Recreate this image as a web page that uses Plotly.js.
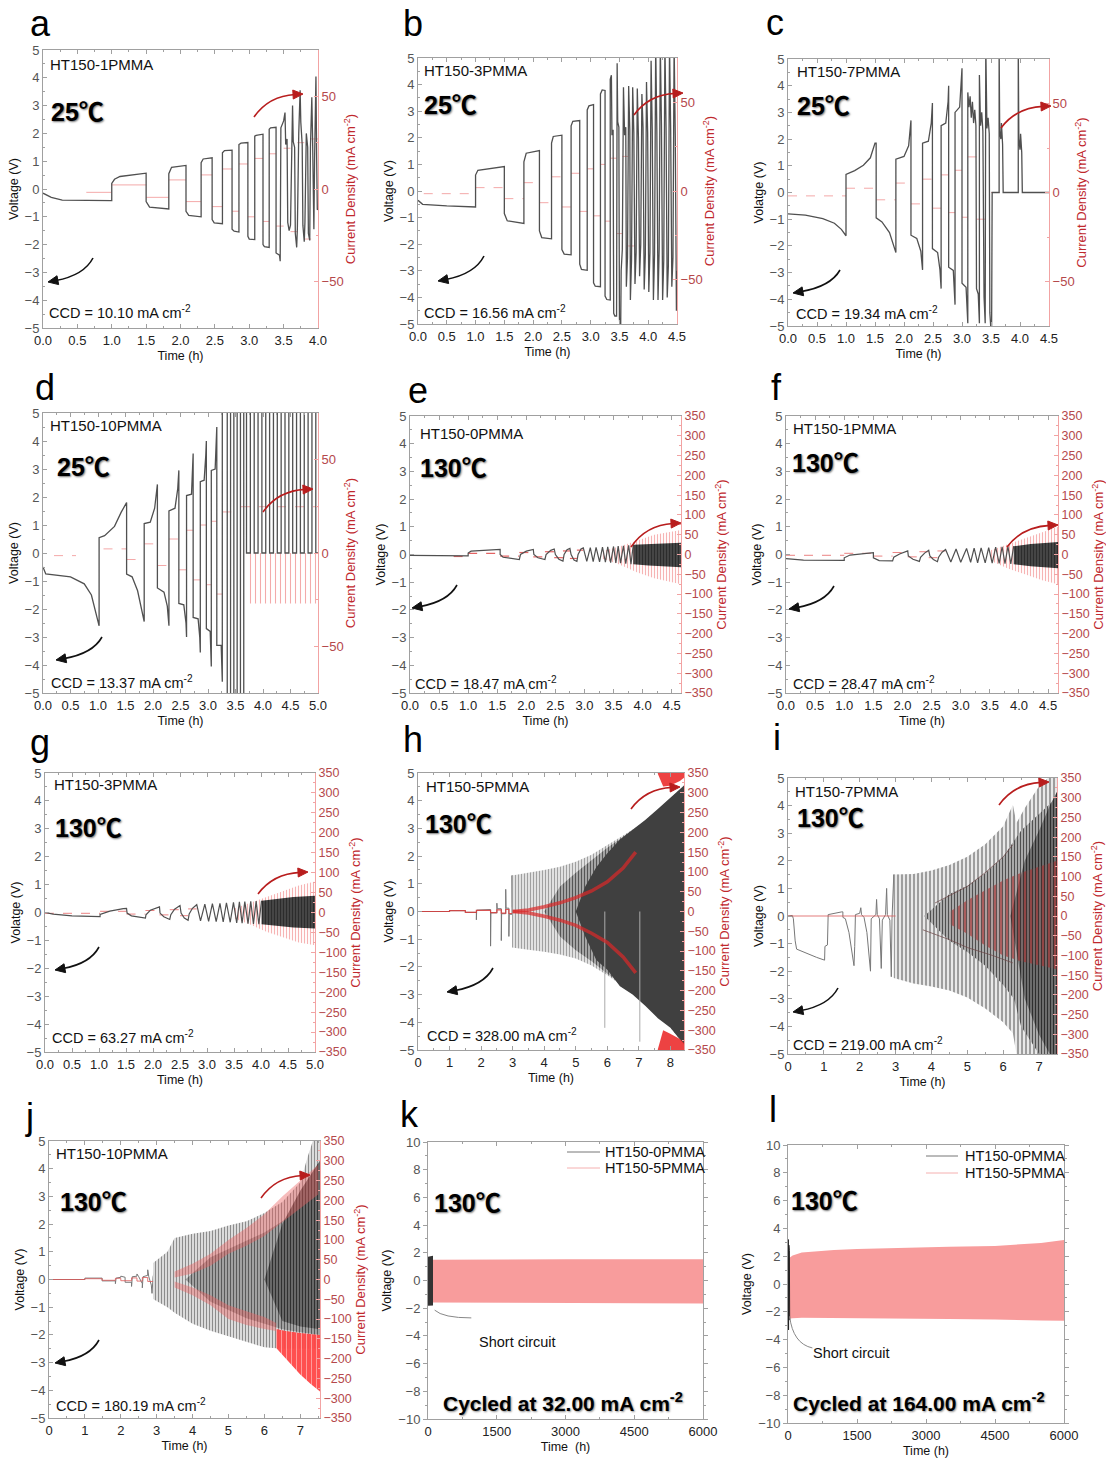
<!DOCTYPE html>
<html><head><meta charset="utf-8">
<script src="https://cdn.plot.ly/plotly-3.0.1.min.js"></script>
<style>html,body{margin:0;padding:0;background:#fff}#chart{width:1106px;height:1463px}</style>
</head><body><div id="chart"></div>
<script>
// ======================= DATA =======================
const sampleNames = ['HT150-1PMMA','HT150-3PMMA','HT150-7PMMA','HT150-10PMMA','HT150-0PMMA','HT150-1PMMA','HT150-3PMMA','HT150-5PMMA','HT150-7PMMA','HT150-10PMMA'];
const ccdValues = ['10.10','16.56','19.34','13.37','18.47','28.47','63.27','328.00','219.00','180.19'];
const temps = ['25℃','25℃','25℃','25℃','130℃','130℃','130℃','130℃','130℃','130℃','130℃','130℃'];
const panelLetters = ['a','b','c','d','e','f','g','h','i','j','k','l'];
const cycledAt = ['32.00','164.00'];
const legendNames = ['HT150-0PMMA','HT150-5PMMA'];

// panel a : [time h, voltage V]
const a_volt = [[0,-0.15],[0.12,-0.3],[0.28,-0.4],[1.0,-0.42],[1.0,0.2],[1.04,0.35],[1.12,0.45],[1.5,0.57],[1.5,-0.45],[1.55,-0.65],[1.83,-0.72],[1.83,0.55],[1.87,0.78],[2.08,0.85],[2.08,-0.8],[2.12,-0.95],[2.3,-1.0],[2.3,0.95],[2.33,1.08],[2.46,1.12],[2.46,-1.1],[2.49,-1.22],[2.61,-1.25],[2.61,1.3],[2.64,1.38],[2.75,1.4],[2.75,-1.45],[2.78,-1.52],[2.85,-1.55],[2.85,1.6],[2.88,1.65],[2.98,1.67],[2.98,-1.7],[3.0,-1.8],[3.08,-1.82],[3.08,1.9],[3.1,1.93],[3.2,1.97],[3.2,-2.0],[3.22,-2.07],[3.29,-2.1],[3.29,2.15],[3.31,2.2],[3.39,2.22],[3.39,-2.3],[3.44,-2.38],[3.45,-2.6],[3.46,2.2],[3.5,2.45],[3.52,2.75],[3.53,1.6],[3.55,1.8],[3.56,-1.2],[3.58,-1.5],[3.6,-1.3],[3.62,1.8],[3.63,3.0],[3.64,1.7],[3.66,1.5],[3.67,-1.6],[3.69,-2.1],[3.7,-1.4],[3.72,2.0],[3.74,3.55],[3.75,2.4],[3.77,1.6],[3.78,-1.3],[3.8,-1.9],[3.81,-1.2],[3.83,2.0],[3.85,1.5],[3.86,-1.6],[3.88,-1.85],[3.89,1.5],[3.91,3.3],[3.92,2.0],[3.93,-1.0],[3.94,-1.45],[3.95,1.0],[3.97,4.05],[3.98,1.2],[3.99,-0.75],[4.0,-0.7]];
const a_jt = [0.63,1.0,1.5,1.83,2.08,2.3,2.46,2.61,2.75,2.85,2.98,3.08,3.2,3.29,3.39,3.5,3.6,3.7,3.8,3.9,4.0];
const a_j  = [-1.8,2.2,-4.5,4.9,-6.8,7.6,-9.5,10.8,-12,13.5,-15,16.5,-17.5,19,-20,22,-23,25,-27,27];

// panel b
const b_volt = [[0,-0.35],[0.08,-0.5],[0.5,-0.56],[1.0,-0.6],[1.0,0.6],[1.04,0.78],[1.5,0.92],[1.5,-0.85],[1.55,-1.12],[1.84,-1.22],[1.84,1.1],[1.88,1.42],[2.11,1.52],[2.11,-1.5],[2.15,-1.75],[2.32,-1.8],[2.32,1.8],[2.35,2.05],[2.5,2.1],[2.5,-2.2],[2.54,-2.37],[2.66,-2.4],[2.66,2.45],[2.69,2.62],[2.81,2.65],[2.81,-2.75],[2.84,-2.95],[2.94,-2.98],[2.94,3.05],[2.97,3.2],[3.05,3.25],[3.05,-3.45],[3.08,-3.58],[3.17,-3.6],[3.17,3.65],[3.2,3.8],[3.25,3.78],[3.25,-3.95],[3.28,-4.08],[3.34,-4.1],[3.34,4.2],[3.36,4.35],[3.37,2.1],[3.39,2.3],[3.4,-4.6],[3.42,-4.7],[3.45,-4.7],[3.46,4.8],[3.47,2.6],[3.49,2.4],[3.5,-4.8],[3.52,-5.5],[3.53,-3.0],[3.55,-2.2],[3.57,3.9],[3.59,2.1],[3.61,2.4],[3.62,-3.6],[3.64,-2.5],[3.66,3.95],[3.68,2.3],[3.69,-4.1],[3.71,-2.6],[3.73,3.9],[3.75,2.2],[3.77,-3.5],[3.79,-2.3],[3.81,3.85],[3.83,2.0],[3.85,-3.2],[3.87,-2.0],[3.89,3.65],[3.91,2.4],[3.93,-3.7],[3.95,-2.4],[3.97,4.1],[3.99,2.2],[4.01,-3.8],[4.03,-2.3],[4.05,4.9],[4.07,2.3],[4.09,-4.1],[4.11,-2.4],[4.13,5.5],[4.15,2.2],[4.17,-4.1],[4.19,-2.2],[4.21,5.5],[4.23,2.5],[4.25,-4.1],[4.27,-2.6],[4.29,5.5],[4.31,2.4],[4.33,-4.0],[4.35,-2.8],[4.37,5.5],[4.39,2.3],[4.41,-3.6],[4.43,-2.5],[4.45,5.5],[4.47,2.1],[4.49,-4.5],[4.5,-3.0]];
const b_jt = [0.1,1.0,1.5,1.84,2.11,2.32,2.5,2.66,2.81,2.94,3.05,3.17,3.25,3.34,3.45,3.55,3.65,3.75];
const b_j  = [-1.5,1.9,-4.3,4.7,-6.6,8,-9,10,-11.5,12.5,-14,15,-17,18.5,-24,19.5,-31];

// panel c
const c_volt = [[0,-0.8],[0.3,-0.85],[0.6,-0.98],[0.8,-1.15],[0.92,-1.38],[1.0,-1.62],[1.0,0.68],[1.15,0.82],[1.3,1.02],[1.42,1.3],[1.5,1.85],[1.52,1.85],[1.52,-0.95],[1.62,-1.1],[1.75,-1.5],[1.86,-2.25],[1.86,1.25],[2.0,1.35],[2.08,1.75],[2.12,2.7],[2.12,-1.6],[2.22,-1.72],[2.29,-2.2],[2.32,-2.9],[2.32,1.85],[2.42,1.92],[2.47,2.6],[2.49,3.35],[2.49,-2.1],[2.58,-2.25],[2.62,-2.9],[2.64,-3.6],[2.64,2.5],[2.72,2.6],[2.76,3.4],[2.77,4.0],[2.77,-2.8],[2.85,-2.92],[2.88,-4.2],[2.88,3.0],[2.96,3.2],[3.0,4.65],[3.0,-3.4],[3.07,-3.55],[3.1,-4.9],[3.1,3.75],[3.12,3.2],[3.14,3.6],[3.16,2.8],[3.18,3.4],[3.2,2.6],[3.22,3.1],[3.24,2.5],[3.25,-3.6],[3.28,-3.8],[3.3,-4.9],[3.3,4.4],[3.32,2.5],[3.34,3.0],[3.36,2.3],[3.38,-3.9],[3.4,-4.9],[3.41,5.5],[3.43,2.4],[3.45,2.8],[3.47,2.2],[3.48,-4.5],[3.51,-5.5],[3.52,0],[3.64,0],[3.64,5.5],[3.65,2.3],[3.67,2.0],[3.68,2.6],[3.7,1.8],[3.71,0],[3.97,0],[3.97,5.5],[3.98,2.0],[4.0,1.6],[4.01,2.2],[4.03,1.5],[4.04,0],[4.5,0]];
const c_jt = [0,1.0,1.52,1.86,2.12,2.32,2.49,2.64,2.77,2.88,3.0,3.1,3.25,3.5,4.5];
const c_j  = [-1.9,2.4,-4.1,5.3,-6.4,7.5,-8.8,9.9,-11.3,12.5,-13.9,20,-15,0];

// panel d
const d_volt = [[0,-0.5],[0.05,-0.75],[0.5,-0.85],[0.75,-1.1],[0.88,-1.5],[0.96,-2.1],[1.02,-2.6],[1.02,0.55],[1.12,0.62],[1.3,0.95],[1.42,1.45],[1.52,1.8],[1.52,-0.75],[1.62,-0.85],[1.72,-1.35],[1.84,-2.45],[1.84,1.05],[1.95,1.1],[2.03,1.6],[2.08,2.45],[2.08,-1.25],[2.2,-1.4],[2.26,-1.9],[2.29,-2.6],[2.29,1.5],[2.4,1.6],[2.45,2.3],[2.47,2.95],[2.47,-1.8],[2.56,-1.85],[2.6,-2.5],[2.61,-3.0],[2.61,2.05],[2.7,2.1],[2.72,2.9],[2.73,3.55],[2.73,-2.3],[2.82,-2.35],[2.85,-3.0],[2.86,-3.55],[2.86,2.55],[2.93,2.6],[2.96,3.5],[2.97,4.0],[2.97,-2.7],[3.04,-2.8],[3.06,-4.05],[3.06,2.95],[3.13,3.0],[3.16,4.5],[3.16,-3.3],[3.24,-3.3],[3.26,-4.6]];
const d_sw1 = [3.26,3.35,3.41,3.47,3.53,3.59,3.65,3.70];
const d_sw2 = [3.70,3.77,3.84,3.91,3.98,4.05,4.12,4.19,4.26,4.33,4.40,4.47,4.54,4.61,4.68,4.75,4.82,4.89,4.96,5.0];
const d_jt = [0.2,0.6,1.1,1.52,1.84,2.08,2.29,2.47,2.61,2.73,2.86,2.97,3.06,3.16,3.26,3.6,5.0];
const d_j  = [-1.4,null,2.2,-3.5,4.9,-6.7,7.5,-9,12.2,-14.4,15,-17,17,-22,22,24.8];
const d_neg_t = [3.7,5.0], d_neg_hi = [0,0], d_neg_lo = [-27,-27];

// panel e
const e_volt = [[0,-0.03],[1.0,-0.05],[1.0,0.05],[1.05,0.12],[1.55,0.18],[1.55,0.0],[1.6,-0.1],[1.88,-0.18],[1.9,0.0],[2.0,0.12],[2.12,0.18],[2.13,0.0],[2.2,-0.12],[2.32,-0.18],[2.34,0.0],[2.42,0.15],[2.48,0.2],[2.5,0.0],[2.56,-0.17],[2.63,-0.24],[2.65,0.0],[2.7,0.17],[2.75,0.22],[2.77,0.0],[2.82,-0.2],[2.87,-0.25],[2.89,0.0],[2.94,0.2],[2.98,0.24],[3.04,-0.25],[3.1,0.25],[3.15,-0.26],[3.2,0.26],[3.26,-0.27],[3.31,0.27],[3.36,-0.28],[3.4,0.28],[3.45,-0.29],[3.5,0.29],[3.54,-0.3],[3.58,0.3],[3.62,-0.31],[3.67,0.31],[3.71,-0.33],[3.76,0.33],[3.8,-0.35],[3.84,0.35]];
const e_band_t = [3.84,4.1,4.4,4.66], e_band_hi = [0.35,0.38,0.41,0.42], e_band_lo = [-0.35,-0.4,-0.44,-0.46];
const e_jt = [0.75,1.0,1.55,1.88,2.12,2.32,2.48,2.63,2.75,2.87,2.98];
const e_j  = [-5,3,-4,5,-6,7,-8,9,-10,11];
const e_jb_t = [3.3,3.6,3.9,4.2,4.66], e_jb_hi = [8,20,35,50,62], e_jb_lo = [-10,-25,-45,-60,-75];

// panel f
const f_volt = [[0,-0.15],[0.3,-0.2],[1.0,-0.21],[1.0,-0.12],[1.1,-0.02],[1.5,0.07],[1.5,-0.12],[1.6,-0.22],[1.83,-0.23],[1.85,-0.1],[1.95,0.02],[2.09,0.13],[2.1,-0.05],[2.18,-0.17],[2.29,-0.25],[2.31,-0.1],[2.38,0.05],[2.45,0.15],[2.47,-0.05],[2.53,-0.18],[2.6,-0.26],[2.62,-0.1],[2.68,0.08],[2.74,0.18],[2.83,-0.27],[2.92,0.2],[3.0,-0.28],[3.1,0.22],[3.17,-0.28],[3.23,0.23],[3.29,-0.3],[3.35,0.24],[3.42,-0.3],[3.48,0.25],[3.54,-0.31],[3.6,0.27],[3.66,-0.32],[3.71,0.28],[3.76,-0.33],[3.81,0.29],[3.86,-0.34],[3.91,0.3]];
const f_band_t = [3.91,4.2,4.5,4.67], f_band_hi = [0.3,0.38,0.42,0.45], f_band_lo = [-0.35,-0.42,-0.48,-0.5];
const f_jt = [0,1.0,1.5,1.83,2.09,2.29,2.45,2.6,2.74];
const f_j  = [-2,3,-4,5,-6,7,-8,9];
const f_jb_t = [3.5,3.8,4.1,4.4,4.67], f_jb_hi = [10,25,40,55,70], f_jb_lo = [-15,-35,-50,-65,-75];

// panel g
const g_volt = [[0,0.0],[0.15,-0.06],[0.5,-0.12],[1.02,-0.15],[1.02,-0.07],[1.2,0.05],[1.45,0.14],[1.51,0.15],[1.52,-0.02],[1.6,-0.12],[1.86,-0.2],[1.87,-0.08],[1.95,0.08],[2.12,0.2],[2.13,-0.02],[2.2,-0.15],[2.31,-0.25],[2.33,-0.08],[2.4,0.12],[2.5,0.25],[2.52,-0.02],[2.58,-0.2],[2.65,-0.28],[2.67,-0.05],[2.73,0.15],[2.81,0.28],[2.88,-0.3],[2.96,0.3],[3.03,-0.32],[3.1,0.32],[3.17,-0.33],[3.24,0.33],[3.3,-0.34],[3.36,0.35],[3.43,-0.35],[3.49,0.36],[3.55,-0.37],[3.6,0.38],[3.65,-0.38],[3.7,0.39],[3.76,-0.4],[3.81,0.4],[3.86,-0.41],[3.91,0.41],[3.96,-0.42],[4.01,0.42]];
const g_band_t = [4.01,4.3,4.6,5.0], g_band_hi = [0.42,0.5,0.56,0.6], g_band_lo = [-0.42,-0.48,-0.54,-0.57];
const g_jt = [0,1.02,1.51,1.86,2.12,2.31,2.5,2.65,2.81];
const g_j  = [-2,3,-4,5,-6,7,-8,9];
const g_jb_t = [3.5,3.8,4.1,4.4,4.7,5.0], g_jb_hi = [10,25,40,55,68,78], g_jb_lo = [-15,-30,-48,-62,-75,-82];

// panel h
const h_volt = [[0,0],[1.0,0],[1.0,0.03],[1.5,0.03],[1.5,-0.03],[1.85,-0.03],[1.85,-0.3],[1.86,0.05],[2.3,0.07],[2.3,-1.25],[2.31,-0.05],[2.5,-0.05],[2.5,0.3],[2.51,0.1],[2.64,0.1],[2.64,-1.05],[2.65,-0.08],[2.78,-0.08],[2.78,0.8],[2.79,0.12],[2.88,0.12],[2.88,-0.9],[2.89,-0.1],[2.98,-0.1],[2.98,1.3],[2.99,0.15],[3.05,0.15]];
const h_env_t  = [2.98,3.5,4.0,4.5,5.0,5.5,6.0,6.5,7.0,7.5,8.0,8.43];
const h_env_hi = [1.3,1.4,1.5,1.62,1.8,2.05,2.4,2.75,3.1,3.55,4.1,4.55];
const h_env_lo = [-1.3,-1.38,-1.45,-1.55,-1.7,-1.95,-2.3,-2.7,-3.1,-3.7,-4.2,-4.8];
const h_mid_t  = [4.0,4.5,5.0,5.5,6.0,6.5,7.0];
const h_mid_hi = [0,0.9,1.4,1.85,2.3,2.7,3.1];
const h_mid_lo = [0,-0.9,-1.4,-1.8,-2.25,-2.65,-3.1];
const h_core_t  = [5.0,5.3,5.65,6.0,6.4,6.8,7.2,7.6,8.0,8.43];
const h_core_hi = [0,0.9,1.6,2.1,2.6,2.95,3.3,3.7,4.1,4.55];
const h_core_lo = [0,-0.9,-1.75,-2.1,-2.7,-3.0,-3.4,-3.85,-4.2,-4.8];
const h_sp_t = [5.92,7.03], h_sp_hi = [0,0], h_sp_lo = [-4.2,-4.7];
const h_jt = [0,1.0,1.5,1.85,2.3,2.5,2.64,2.78,2.88,2.98];
const h_j  = [0,2,-2,3,-3,4,-4,5,-5];
const h_ju_t = [3.0,3.5,4.0,4.5,5.0,5.5,6.0,6.5,6.9], h_ju = [0,4,12,22,35,52,75,110,150], h_jl = [0,-4,-12,-22,-35,-55,-78,-115,-155];
const h_jc_t = [7.6,7.77,7.98,8.3,8.43], h_jc_top = [348,316,318,330,338], h_jc_bot = [-348,-300,-308,-322,-332];

// panel i
const i_volt = [[0,0],[0.12,0.02],[0.15,-0.1],[0.2,-0.9],[0.24,-1.2],[0.5,-1.35],[0.8,-1.5],[1.02,-1.6],[1.03,-1.1],[1.1,-1.05],[1.12,0.05],[1.5,0.15],[1.53,0.15],[1.53,-0.05],[1.6,-0.1],[1.7,-0.6],[1.78,-1.4],[1.84,-1.8],[1.86,-1.1],[1.88,0.05],[2.0,0.1],[2.03,0.3],[2.05,0.05],[2.12,-0.05],[2.2,-0.6],[2.3,-2.0],[2.32,-0.1],[2.45,0.05],[2.47,0.6],[2.49,0.05],[2.55,-0.1],[2.6,-1.9],[2.63,-0.15],[2.72,0.05],[2.75,1.0],[2.77,0.05],[2.84,-0.15],[2.88,-2.2],[2.9,-0.1],[2.95,1.5],[2.97,0.0]];
const i_env_t  = [2.95,3.5,4.0,4.5,5.0,5.5,6.0,6.27,6.37,6.6,7.0,7.25,7.5];
const i_env_hi = [1.5,1.52,1.65,1.85,2.15,2.6,3.25,4.03,3.37,3.9,4.7,5.0,5.0];
const i_env_lo = [-2.25,-2.45,-2.55,-2.7,-2.95,-3.35,-3.85,-4.25,-5,-5,-5,-5,-5];
const i_mid_t  = [3.8,4.5,5.0,5.5,6.0,6.3,6.5,7.0,7.5];
const i_mid_hi = [0,0.8,1.1,1.55,2.15,2.75,3.1,3.7,4.3];
const i_mid_lo = [0,-0.9,-1.3,-1.8,-2.5,-3.0,-4.0,-5,-5];
const i_core_t  = [6.2,6.6,7.0,7.3,7.5];
const i_core_hi = [0,2.0,3.1,4.0,4.5];
const i_core_lo = [0,-3.0,-4.3,-5,-5];
const i_jb_t = [4.5,5.0,5.5,6.0,6.5,7.0,7.5], i_jb_hi = [10,40,65,90,110,125,140], i_jb_lo = [-20,-45,-75,-100,-115,-125,-135];
const i_cu_t = [4.1,5.0,5.5,6.0,6.27], i_cu = [33,75,110,150,181];
const i_cl_t = [3.76,4.5,5.0,5.7,6.27], i_cl = [-35,-60,-80,-100,-119];

// panel j
const j_volt = [[0,0],[1.0,0],[1.0,0.05],[1.48,0.05],[1.48,-0.05],[1.85,-0.05],[1.85,-0.15],[1.87,0.05],[2.0,0.08],[2.0,0.12],[2.12,0.08],[2.12,-0.1],[2.3,-0.1],[2.3,-0.25],[2.32,0.1],[2.45,0.12],[2.45,0.2],[2.5,0.1],[2.6,-0.15],[2.6,-0.3],[2.62,0.1],[2.75,0.15],[2.75,0.35],[2.78,0.1],[2.85,-0.2],[2.87,-0.5],[2.9,0.1],[3.0,0.6],[3.02,0.1]];
const j_env_t  = [2.9,3.3,3.5,4.0,4.5,5.0,5.5,6.0,6.5,7.0,7.2,7.35,7.55];
const j_env_hi = [0.6,1.0,1.5,1.65,1.75,1.95,2.1,2.4,2.8,3.5,4.4,5.0,5.0];
const j_env_lo = [-0.7,-1.0,-1.2,-1.6,-1.85,-2.05,-2.25,-2.45,-2.5,-2.5,-2.5,-2.5,-2.5];
const j_mid_t  = [3.8,4.5,5.0,5.5,6.0,6.5,7.0,7.55];
const j_mid_hi = [0,0.8,1.1,1.4,1.7,2.1,2.6,3.2];
const j_mid_lo = [0,-0.8,-1.1,-1.4,-1.6,-1.8,-1.9,-2.0];
const j_core_t  = [6.0,6.5,7.0,7.55], j_core_hi = [0,2.0,3.2,4.3], j_core_lo = [0,-1.5,-1.7,-1.8];
const j_bu_t = [3.5,4.0,4.5,5.0,5.5,6.0,6.5,7.0,7.5], j_bu_hi = [20,40,65,100,130,165,210,250,290], j_bu_lo = [5,15,35,65,85,110,145,180,215];
const j_bl_t = [3.5,4.0,4.5,5.0,5.5,6.0,6.33], j_bl_hi = [-5,-20,-40,-65,-80,-95,-110], j_bl_lo = [-20,-40,-65,-100,-115,-125,-130];
const j_rf_t = [6.33,6.6,7.0,7.3,7.55], j_rf_top = [-125,-130,-135,-138,-140], j_rf_bot = [-173,-200,-240,-265,-283];
const j_jt = [0,1.0,1.48,1.85,2.0,2.3,2.45,2.6,2.75,2.9];
const j_j  = [0,2,-2,3,-3,4,-4,5,-5];

// panel k (time h, voltage V)
const k_pink_t = [109,500,1500,3000,4500,6000], k_pink_hi = [1.49,1.5,1.51,1.53,1.54,1.54], k_pink_lo = [-1.59,-1.6,-1.61,-1.63,-1.64,-1.66];
const k_dark_t = [0,109], k_dark_hi = [1.72,1.78], k_dark_lo = [-1.83,-1.8];
// panel l
const l_pink_t  = [20,100,300,600,1000,1500,2500,3500,4500,5000,5500,6000];
const l_pink_hi = [1.86,2.05,2.26,2.35,2.45,2.52,2.62,2.68,2.74,2.82,2.95,3.17];
const l_pink_lo = [-2.5,-2.47,-2.42,-2.41,-2.43,-2.45,-2.5,-2.52,-2.55,-2.58,-2.62,-2.65];
const l_dark = [[0,-0.3],[6,3.2],[12,-3.3],[18,2.8],[24,-3.0],[30,2.4],[36,-2.6]];

// ======================= LAYOUT / STYLE =======================
const W = 1106, H = 1463;
const FONT = 'Arial, "Liberation Sans", "Noto Sans CJK SC", sans-serif';
const VCOL = '#505050', PINK = 'rgba(240,140,140,0.75)', AXG = '#a0a0a0', AXP = '#f2a3a3';
const fx = x => x / W, fy = y => 1 - y / H;

const P = [
 {box:[43,50,318,328],  xr:[0,4],    xd:0.5, xm:0.25, fmt:'.1f', cr:[-75,75], cd:50, cm:25, curTop:false, vt:'Voltage (V)', nm:[48,64], tp:[49,112], cc:[47,312], lt:[28,23], ab:[93,258,48,282], ar:[254,117,303,94]},
 {box:[418,58,677,324], xr:[0,4.5],  xd:0.5, xm:0.25, fmt:'.1f', cr:[-75,75], cd:50, cm:25, curTop:false, vt:'Voltage (V)', nm:[422,71], tp:[422,105], cc:[422,312], lt:[401,23], ab:[484,256,438,281], ar:[634,115,683,93]},
 {box:[788,59,1049,326],xr:[0,4.5],  xd:0.5, xm:0.25, fmt:'.1f', cr:[-75,75], cd:50, cm:25, curTop:false, vt:'Volatge (V)', nm:[795,72], tp:[795,106], cc:[794,313], lt:[764,22], ab:[840,270,793,293], ar:[1001,128,1051,106]},
 {box:[43,413,318,693], xr:[0,5],    xd:0.5, xm:0.25, fmt:'.1f', cr:[-75,75], cd:50, cm:25, curTop:false, vt:'Voltage (V)', nm:[48,425], tp:[55,467], cc:[49,682], lt:[33,387], ab:[102,637,56,660], ar:[263,512,313,489]},
 {box:[410,416,681,693],xr:[0,4.66], xd:0.5, xm:0.25, fmt:'.1f', cr:[-350,350], cd:50, cm:25, curTop:false, vt:'Voltage (V)', nm:[418,433], tp:[418,468], cc:[413,683], lt:[406,391], ab:[457,585,412,608], ar:[631,547,681,523]},
 {box:[786,416,1058,693],xr:[0,4.67],xd:0.5, xm:0.25, fmt:'.1f', cr:[-350,350], cd:50, cm:25, curTop:false, vt:'Voltage (V)', nm:[791,429], tp:[790,463], cc:[791,683], lt:[769,388], ab:[834,586,789,609], ar:[1007,547,1058,525]},
 {box:[45,773,315,1052],xr:[0,5],    xd:0.5, xm:0.25, fmt:'.1f', cr:[-350,350], cd:50, cm:25, curTop:false, vt:'Volatge (V)', nm:[52,785], tp:[53,828], cc:[50,1037], lt:[28,742], ab:[99,947,55,970], ar:[258,894,308,872]},
 {box:[418,773,684,1050],xr:[0,8.43],xd:1,   xm:0.5,  fmt:'d',   cr:[-350,350], cd:50, cm:25, curTop:true,  vt:'Voltage (V)', nm:[424,786], tp:[423,824], cc:[425,1035], lt:[401,739], ab:[493,968,447,992], ar:[631,809,680,787]},
 {box:[788,778,1057,1054],xr:[0,7.5],xd:1,   xm:0.5,  fmt:'d',   cr:[-350,350], cd:50, cm:25, curTop:true,  vt:'Voltage (V)', nm:[793,791], tp:[795,818], cc:[791,1044], lt:[771,738], ab:[838,988,793,1012], ar:[999,805,1049,782]},
 {box:[49,1141,320,1418],xr:[0,7.55],xd:1,   xm:0.5,  fmt:'d',   cr:[-350,350], cd:50, cm:25, curTop:true,  vt:'Voltage (V)', nm:[54,1153], tp:[58,1202], cc:[54,1405], lt:[23,1116], ab:[99,1340,55,1363], ar:[261,1198,310,1175]},
 {box:[428,1142,703,1419],xr:[0,6000],xd:1500,xm:750, fmt:'d',   cr:null, vt:'Voltage (V)', xt:'Time\u00a0\u00a0(h)', tp:[432,1203], lt:[398,1114], yr:[-10,10], yd:2, ym:1},
 {box:[788,1145,1064,1423],xr:[0,6000],xd:1500,xm:750, fmt:'d',   cr:null, vt:'Voltage (V)', tp:[789,1201], lt:[767,1109], yr:[-10,10], yd:2, ym:1}
];

const idx = (l, n) => n === 1 ? l : l + n;
const X = i => idx('x', i + 1), V = i => idx('y', 2 * i + 1), C = i => 'y' + (2 * i + 2);

const traces = [];
function addLine(pts, xa, ya, color, width, dash, shape) {
  traces.push({type:'scatter', mode:'lines', x:pts.map(q => q == null ? null : q[0]), y:pts.map(q => q == null ? null : q[1]),
    xaxis:xa, yaxis:ya, line:{color:color, width:width, dash:dash || 'solid', shape:shape || 'linear'}, hoverinfo:'skip', showlegend:false, connectgaps:false});
}
function addBand(t, hi, lo, xa, ya, color, pat) {
  const tr = {type:'scatter', mode:'lines', x:t.concat(t.slice().reverse()), y:hi.concat(lo.slice().reverse()),
    fill:'toself', fillcolor:color, line:{width:0, color:'rgba(0,0,0,0)'}, xaxis:xa, yaxis:ya, hoverinfo:'skip', showlegend:false};
  if (pat) tr.fillpattern = Object.assign({shape:'|', fillmode:'replace', size:4, solidity:0.45}, pat);
  traces.push(tr);
}
function steps(tt, jj) { const o = []; for (let i = 0; i < jj.length; i++) { if (jj[i] == null) continue; o.push([tt[i], jj[i]], [tt[i+1], jj[i]], null); } return o; }
function stepsJoined(tt, jj) { const o = []; for (let i = 0; i < jj.length; i++) { o.push([tt[i], jj[i]], [tt[i+1], jj[i]]); } return o; }
function square(tt, first, second) { const o = []; for (let i = 0; i < tt.length - 1; i++) { const v = i % 2 === 0 ? first : second; o.push([tt[i], v], [tt[i+1], v]); } return o; }
function spikes(tt, hi, lo) { const o = []; for (let i = 0; i < tt.length; i++) o.push([tt[i], lo[i]], [tt[i], hi[i]], null); return o; }
const pinkPat = {fgcolor:'rgba(238,120,120,0.6)', bgcolor:'rgba(255,235,235,0.25)', size:3, solidity:0.3};
const bandPat = {fgcolor:'#2c2c2c', bgcolor:'#555555', size:3, solidity:0.6};

// ---- traces per panel
addLine(steps(a_jt, a_j), X(0), C(0), PINK, 1);
addLine(a_volt, X(0), V(0), VCOL, 1.3);
addLine(steps(b_jt, b_j), X(1), C(1), PINK, 1, 'dash');
addLine(b_volt, X(1), V(1), VCOL, 1.3);
addLine(steps(c_jt, c_j), X(2), C(2), PINK, 1, 'dash');
addLine(c_volt, X(2), V(2), VCOL, 1.3);
addBand(d_neg_t, d_neg_hi, d_neg_lo, X(3), C(3), 'rgba(0,0,0,0)', {fgcolor:'rgba(240,150,150,0.8)', bgcolor:'rgba(255,255,255,0)', size:5, solidity:0.22});
addLine(steps(d_jt, d_j), X(3), C(3), PINK, 1, 'dash');
addLine(d_volt.concat(square(d_sw1, 5.5, -5.5), square(d_sw2, 0, 5.5)), X(3), V(3), VCOL, 1.3);
// e
addBand(e_jb_t, e_jb_hi, e_jb_lo, X(4), C(4), 'rgba(0,0,0,0)', pinkPat);
addLine(steps(e_jt, e_j), X(4), C(4), 'rgba(220,60,60,0.8)', 1.2, 'dash');
addLine(e_volt, X(4), V(4), VCOL, 1.2);
addBand(e_band_t, e_band_hi, e_band_lo, X(4), V(4), '#444', bandPat);
// f
addBand(f_jb_t, f_jb_hi, f_jb_lo, X(5), C(5), 'rgba(0,0,0,0)', pinkPat);
addLine(steps(f_jt, f_j), X(5), C(5), 'rgba(230,100,100,0.8)', 1, 'dash');
addLine(f_volt, X(5), V(5), VCOL, 1.2);
addBand(f_band_t, f_band_hi, f_band_lo, X(5), V(5), '#444', bandPat);
// g
addBand(g_jb_t, g_jb_hi, g_jb_lo, X(6), C(6), 'rgba(0,0,0,0)', pinkPat);
addLine(steps(g_jt, g_j), X(6), C(6), 'rgba(230,100,100,0.8)', 1, 'dash');
addLine(g_volt, X(6), V(6), VCOL, 1.2);
addBand(g_band_t, g_band_hi, g_band_lo, X(6), V(6), '#444', bandPat);
// h
addLine(h_volt, X(7), V(7), '#777', 1);
addBand(h_env_t, h_env_hi, h_env_lo, X(7), V(7), '#d6d6d6', {fgcolor:'#a0a0a0', bgcolor:'#e8e8e8', size:3, solidity:0.4});
addBand(h_mid_t, h_mid_hi, h_mid_lo, X(7), V(7), '#9a9a9a', {fgcolor:'#555', bgcolor:'#b5b5b5', size:3, solidity:0.45});
addBand(h_core_t, h_core_hi, h_core_lo, X(7), V(7), '#404040');
addLine(spikes(h_sp_t, h_sp_hi, h_sp_lo), X(7), V(7), '#aaa', 1);
addLine(stepsJoined(h_jt, h_j), X(7), C(7), 'rgba(215,60,60,0.85)', 1.2);
addLine(h_ju_t.map((t, k) => [t, h_ju[k]]), X(7), C(7), 'rgba(220,40,40,0.7)', 3.5);
addLine(h_ju_t.map((t, k) => [t, h_jl[k]]), X(7), C(7), 'rgba(220,40,40,0.7)', 3.5);
addBand(h_jc_t, [350,350,350,350,350], h_jc_top, X(7), C(7), 'rgba(235,45,45,0.9)');
addBand(h_jc_t, h_jc_bot, [-350,-350,-350,-350,-350], X(7), C(7), 'rgba(235,45,45,0.9)');
// i
addLine(i_volt, X(8), V(8), '#777', 1);
addBand(i_env_t, i_env_hi, i_env_lo, X(8), V(8), '#dadada', {fgcolor:'#8a8a8a', bgcolor:'#e8e8e8', size:4, solidity:0.4});
addBand(i_mid_t, i_mid_hi, i_mid_lo, X(8), V(8), '#a6a6a6', {fgcolor:'#505050', bgcolor:'#bdbdbd', size:3, solidity:0.45});
addBand(i_core_t, i_core_hi, i_core_lo, X(8), V(8), '#505050', {fgcolor:'#2e2e2e', bgcolor:'#8a8a8a', size:3, solidity:0.55});
addLine([[0,0],[3.0,0]], X(8), C(8), 'rgba(220,90,90,0.8)', 1);
addBand(i_jb_t, i_jb_hi, i_jb_lo, X(8), C(8), 'rgba(0,0,0,0)', {fgcolor:'rgba(170,40,40,0.55)', bgcolor:'rgba(190,80,80,0.12)', size:6, solidity:0.35});
addLine(i_cu_t.map((t, k) => [t, i_cu[k]]), X(8), C(8), 'rgba(110,70,70,0.7)', 1);
addLine(i_cl_t.map((t, k) => [t, i_cl[k]]), X(8), C(8), 'rgba(110,70,70,0.7)', 1);
// j
addLine(j_volt, X(9), V(9), '#777', 1);
addBand(j_env_t, j_env_hi, j_env_lo, X(9), V(9), '#d6d6d6', {fgcolor:'#8c8c8c', bgcolor:'#e4e4e4', size:3, solidity:0.4});
addBand(j_mid_t, j_mid_hi, j_mid_lo, X(9), V(9), '#9c9c9c', {fgcolor:'#5a5a5a', bgcolor:'#b0b0b0', size:3, solidity:0.45});
addBand(j_core_t, j_core_hi, j_core_lo, X(9), V(9), '#6a6a6a', {fgcolor:'#303030', bgcolor:'#7a7a7a', size:3, solidity:0.5});
addLine(stepsJoined(j_jt, j_j), X(9), C(9), 'rgba(220,90,90,0.8)', 1);
addBand(j_bu_t, j_bu_hi, j_bu_lo, X(9), C(9), 'rgba(235,95,95,0.42)');
addBand(j_bl_t, j_bl_hi, j_bl_lo, X(9), C(9), 'rgba(235,95,95,0.42)');
addBand(j_rf_t, j_rf_top, j_rf_bot, X(9), C(9), 'rgba(255,75,75,0.95)', {fgcolor:'rgba(255,190,190,0.9)', bgcolor:'rgba(255,70,70,0.95)', size:5, solidity:0.15});
// k
addBand(k_pink_t, k_pink_hi, k_pink_lo, X(10), V(10), '#f89c9c');
addBand(k_dark_t, k_dark_hi, k_dark_lo, X(10), V(10), '#333333');
// l
addBand(l_pink_t, l_pink_hi, l_pink_lo, X(11), V(11), '#f89c9c');
addLine(l_dark, X(11), V(11), '#222', 1);

// ---- layout
const layout = {width:W, height:H, margin:{l:0, r:0, t:0, b:0}, paper_bgcolor:'#fff', plot_bgcolor:'rgba(0,0,0,0)',
  showlegend:false, font:{family:FONT, size:13, color:'#333'}, annotations:[], shapes:[]};

function arrow(s, color, kind) {
  const [sx, sy, ex, ey] = s;
  let cx, cy;
  if (kind === 'b') { cx = sx - 0.2 * (sx - ex); cy = sy + 0.72 * (ey - sy); }
  else { cx = sx + 0.3 * (ex - sx); cy = ey + 0.08 * (sy - ey); }
  let ux = ex - cx, uy = ey - cy; const n = Math.hypot(ux, uy); ux /= n; uy /= n;
  const Lh = 10, Wh = 4.5;
  const bx = ex - ux * Lh * 0.8, by = ey - uy * Lh * 0.8;
  layout.shapes.push({type:'path', xref:'paper', yref:'paper', layer:'above',
    path:`M ${fx(sx)},${fy(sy)} Q ${fx(cx)},${fy(cy)} ${fx(bx)},${fy(by)}`, line:{color:color, width:1.6}});
  const hx = ex - ux * Lh, hy = ey - uy * Lh;
  const p1 = [hx - uy * Wh, hy + ux * Wh], p2 = [hx + uy * Wh, hy - ux * Wh];
  layout.shapes.push({type:'path', xref:'paper', yref:'paper', layer:'above', fillcolor:color,
    path:`M ${fx(ex)},${fy(ey)} L ${fx(p1[0])},${fy(p1[1])} L ${fx(p2[0])},${fy(p2[1])} Z`, line:{color:color, width:1}});
}

P.forEach((p, i) => {
  const [L, T, R, B] = p.box;
  const xdom = [L / W, R / W], ydom = [1 - B / H, 1 - T / H];
  const hasCur = !!p.cr;
  const vId = V(i), cId = C(i);
  const baseId = hasCur && !p.curTop ? cId : vId;
  const vName = 'yaxis' + (2 * i + 1 === 1 ? '' : 2 * i + 1), cName = 'yaxis' + (2 * i + 2);
  const xName = 'xaxis' + (i === 0 ? '' : i + 1);
  layout[xName] = {domain:xdom, anchor:baseId, range:p.xr, dtick:p.xd, tick0:0, tickformat:p.fmt,
    showline:true, linecolor:AXG, linewidth:1, mirror:'ticks', ticks:'inside', ticklen:4, tickcolor:AXG,
    minor:{ticks:'inside', ticklen:2, dtick:p.xm, tickcolor:AXG}, showgrid:false, zeroline:false, automargin:false,
    tickfont:{family:FONT, size:13, color:'#222'},
    title:{text:p.xt || 'Time (h)', font:{family:FONT, size:12.5, color:'#111'}, standoff:4}};
  const vax = {domain:ydom, anchor:X(i), range:p.yr || [-5,5], dtick:p.yd || 1, side:'left',
    showline:true, linecolor:AXG, linewidth:1, mirror:hasCur ? false : 'ticks', ticks:hasCur ? 'inside' : 'outside', ticklen:4, tickcolor:AXG,
    minor:{ticks:hasCur ? 'inside' : 'outside', ticklen:2, dtick:p.ym || 0.5, tickcolor:AXG}, showgrid:false, zeroline:false, automargin:false,
    tickfont:{family:FONT, size:13, color:'#555'},
    title:{text:p.vt, font:{family:FONT, size:12.5, color:'#111'}, standoff:3}};
  if (baseId !== vId) vax.overlaying = baseId;
  layout[vName] = vax;
  if (hasCur) {
    const cax = {domain:ydom, anchor:X(i), range:p.cr, dtick:p.cd, side:'right',
      showline:true, linecolor:AXP, linewidth:1, ticks:'inside', ticklen:4, tickcolor:AXP,
      minor:{ticks:'inside', ticklen:2, dtick:p.cm, tickcolor:AXP}, showgrid:false, zeroline:false, automargin:false,
      tickfont:{family:FONT, size:p.cr[1] > 100 ? 12.5 : 13, color:'#b5484b'},
      title:{text:'Current Density (mA cm<sup>-2</sup>)', font:{family:FONT, size:13, color:'#c0282d'}, standoff:3}};
    if (baseId !== cId) cax.overlaying = baseId;
    layout[cName] = cax;
  }

  const A = layout.annotations;
  const txt = (x, y, text, size, font) => A.push({xref:'paper', yref:'paper', x:fx(x), y:fy(y), xanchor:'left', yanchor:'middle',
    text:text, showarrow:false, font:Object.assign({family:FONT, size:size, color:'#111'}, font || {})});
  txt(p.lt[0], p.lt[1], panelLetters[i], 36, {color:'#000'});
  txt(p.tp[0], p.tp[1], '<b>' + temps[i] + '</b>', 25, {color:'#000', shadow:'1px 1px 2px rgba(0,0,0,0.55)'});
  if (i < 10) {
    txt(p.nm[0], p.nm[1], sampleNames[i], 15, {color:'#111'});
    txt(p.cc[0], p.cc[1], 'CCD = ' + ccdValues[i] + ' mA cm<sup>-2</sup>', 14.5, {color:'#111'});
  }
  if (p.ab) { arrow(p.ab, '#111', 'b'); arrow(p.ar, '#b81d1d', 'r'); }
});

const A = layout.annotations;
const put = (x, y, text, size, font) => A.push({xref:'paper', yref:'paper', x:fx(x), y:fy(y), xanchor:'left', yanchor:'middle',
  text:text, showarrow:false, font:Object.assign({family:FONT, size:size, color:'#111'}, font || {})});
put(441, 1402, '<b>Cycled at ' + cycledAt[0] + ' mA cm<sup>-2</sup></b>', 21, {color:'#000', shadow:'1px 1px 2px rgba(0,0,0,0.45)'});
put(791, 1402, '<b>Cycled at ' + cycledAt[1] + ' mA cm<sup>-2</sup></b>', 21, {color:'#000', shadow:'1px 1px 2px rgba(0,0,0,0.45)'});
put(477, 1342, 'Short circuit', 14.5);
put(811, 1353, 'Short circuit', 14.5);
[[567,600,603,1152,1168],[926,958,963,1156,1173]].forEach(g => {
  layout.shapes.push({type:'line', xref:'paper', yref:'paper', x0:fx(g[0]), x1:fx(g[1]), y0:fy(g[3]), y1:fy(g[3]), line:{color:'#777', width:1}});
  layout.shapes.push({type:'line', xref:'paper', yref:'paper', x0:fx(g[0]), x1:fx(g[1]), y0:fy(g[4]), y1:fy(g[4]), line:{color:'#f5b0b0', width:1}});
  put(g[2], g[3], legendNames[0], 14.5);
  put(g[2], g[4], legendNames[1], 14.5);
});
layout.shapes.push({type:'path', xref:X(10), yref:V(10), path:'M 145,-2.14 Q 330,-2.7 945,-2.7', line:{color:'#888', width:1}});
layout.shapes.push({type:'path', xref:X(11), yref:V(11), path:'M 35,-2.33 Q 110,-4.3 530,-4.6', line:{color:'#888', width:1}});

Plotly.newPlot('chart', traces, layout, {staticPlot:true, displayModeBar:false});
</script></body></html>
